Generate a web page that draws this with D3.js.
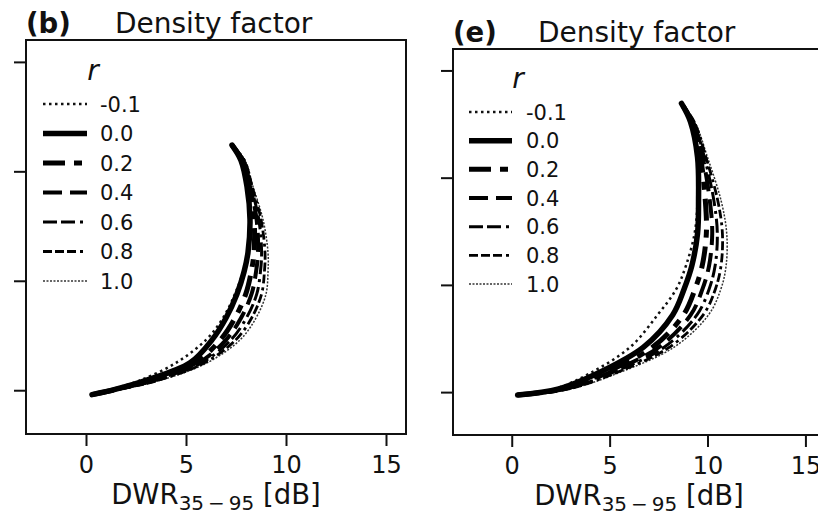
<!DOCTYPE html>
<html>
<head>
<meta charset="utf-8">
<script src="https://cdn.jsdelivr.net/npm/d3@7"></script>
<style>
  html, body { margin: 0; padding: 0; background: #fff; }
  svg { display: block; font-family: "DejaVu Sans", sans-serif; }
</style>
</head>
<body>
<svg id="chart" width="818" height="515"></svg>
<script>
// ---------------- data ----------------
const xTicks = [0, 5, 10, 15];
const yTicks = [0, 5, 10, 15];
const rLabels = ["-0.1", "0.0", "0.2", "0.4", "0.6", "0.8", "1.0"];
const panelLetters = ["(b)", "(e)"];
const panelTitle = "Density factor";

// panel (b): DWR values (y levels shared by all r)
const bY      = [-0.2, 0.05, 0.45, 1.25, 2.3, 3.3, 4.4, 5.4, 6.3, 7.8, 9.3, 10.5, 11.2];
const bX_m01  = [0.3, 1.3, 2.7, 4.5, 6.0, 6.85, 7.45, 7.85, 8.08, 8.2, 8.05, 7.75, 7.3];
const bX_00   = [0.3, 1.5, 3.0, 5.2, 6.3, 7.0, 7.55, 7.9, 8.1, 8.2, 8.05, 7.75, 7.3];
const bX_02   = [0.3, 1.56, 3.21, 5.46, 6.72, 7.45, 7.99, 8.26, 8.4, 8.4, 8.14, 7.81, 7.3];
const bX_04   = [0.3, 1.6, 3.35, 5.63, 7.0, 7.75, 8.28, 8.5, 8.6, 8.53, 8.2, 7.85, 7.3];
const bX_06   = [0.3, 1.64, 3.48, 5.78, 7.25, 8.02, 8.54, 8.72, 8.78, 8.64, 8.25, 7.89, 7.3];
const bX_08   = [0.3, 1.67, 3.6, 5.92, 7.49, 8.28, 8.78, 8.92, 8.95, 8.75, 8.31, 7.92, 7.3];
const bX_10   = [0.3, 1.7, 3.7, 6.05, 7.7, 8.5, 9.0, 9.1, 9.1, 8.85, 8.35, 7.95, 7.3];

// panel (e)
const eY      = [-0.14, 0.15, 0.88, 2.1, 3.6, 4.8, 5.9, 7.4, 8.9, 10.95, 12.6, 13.46];
const eX_m01  = [0.3, 2.2, 4.0, 6.05, 7.45, 8.4, 8.9, 9.34, 9.49, 9.49, 9.13, 8.67];
const eX_00   = [0.3, 2.4, 4.39, 6.73, 8.22, 8.8, 9.2, 9.49, 9.54, 9.49, 9.13, 8.67];
const eX_02   = [0.3, 2.58, 4.70, 7.20, 8.77, 9.36, 9.73, 9.94, 9.89, 9.64, 9.20, 8.67];
const eX_04   = [0.3, 2.7, 4.9, 7.52, 9.14, 9.74, 10.08, 10.24, 10.12, 9.75, 9.24, 8.67];
const eX_06   = [0.3, 2.81, 5.08, 7.8, 9.46, 10.08, 10.39, 10.5, 10.33, 9.84, 9.28, 8.67];
const eX_08   = [0.3, 2.91, 5.26, 8.06, 9.78, 10.4, 10.69, 10.76, 10.53, 9.92, 9.32, 8.67];
const eX_10   = [0.3, 3.0, 5.41, 8.3, 10.05, 10.68, 10.95, 10.98, 10.7, 10.0, 9.35, 8.67];

// line styles per r (same order as rLabels)
const styles = [
  { w: 2.5, dash: "2.5,3.5", color: "#111" },
  { w: 5.5, dash: null, color: "#000" },
  { w: 5,   dash: "22,9,8,9", color: "#000" },
  { w: 4,   dash: "19,8", color: "#000" },
  { w: 3,   dash: "14,4,14,5,3,5", color: "#000" },
  { w: 2.8, dash: "9,3,9,3,9,4,3,4", color: "#000" },
  { w: 1.5, dash: "2,1.5", color: "#333" }
];

// ---------------- layout ----------------
const panels = [
  { letter: panelLetters[0], left: 26, right: 406, top: 40, bottom: 434,
    xs: [bX_m01, bX_00, bX_02, bX_04, bX_06, bX_08, bX_10], ys: bY,
    letterX: 26, titleX: 115, titleY: 33,
    rX: 93, rY: 80, legLine: [43, 87], legText: 100, legY0: 104, legY1: 281 },
  { letter: panelLetters[1], left: 453, right: 825, top: 49, bottom: 435,
    xs: [eX_m01, eX_00, eX_02, eX_04, eX_06, eX_08, eX_10], ys: eY,
    letterX: 453, titleX: 538, titleY: 42,
    rX: 518, rY: 88, legLine: [469, 512], legText: 526, legY0: 112, legY1: 284 }
];

const svg = d3.select("#chart");

panels.forEach(p => {
  const x = d3.scaleLinear().domain([-3, 16]).range([p.left, p.right]);
  const y = d3.scaleLinear().domain([-2, 16]).range([p.bottom, p.top]);
  const g = svg.append("g");

  // clip
  const clipId = "clip" + p.letter.replace(/[()]/g, "");
  svg.append("defs").append("clipPath").attr("id", clipId)
    .append("rect").attr("x", p.left).attr("y", p.top)
    .attr("width", p.right - p.left).attr("height", p.bottom - p.top);

  // curves
  const line = d3.line().x(d => x(d[0])).y(d => y(d[1])).curve(d3.curveCatmullRom.alpha(0.5));
  const cg = g.append("g").attr("clip-path", `url(#${clipId})`);
  // draw outer r first so the solid line sits on top
  const order = [6, 5, 4, 3, 2, 0, 1];
  order.forEach(i => {
    const pts = p.xs[i].map((v, k) => [v, p.ys[k]]);
    const st = styles[i];
    cg.append("path").attr("d", line(pts))
      .attr("fill", "none").attr("stroke", st.color)
      .attr("stroke-width", st.w)
      .attr("stroke-dasharray", st.dash)
      .attr("stroke-linecap", i === 1 ? "round" : "butt")
      .attr("stroke-linejoin", "round");
  });

  // axes
  const xAxis = d3.axisBottom(x).tickValues(xTicks).tickSize(12).tickFormat(d3.format("d"));
  const gx = g.append("g").attr("transform", `translate(0,${p.bottom})`).call(xAxis);
  gx.select(".domain").remove();
  gx.selectAll(".tick line").attr("stroke", "#111").attr("stroke-width", 2);
  gx.selectAll(".tick text").attr("y", 39).attr("dy", 0)
    .attr("font-size", 24).attr("fill", "#111").attr("font-family", "DejaVu Sans");

  const yAxis = d3.axisLeft(y).tickValues(yTicks).tickSize(12).tickFormat("");
  const gy = g.append("g").attr("transform", `translate(${p.left},0)`).call(yAxis);
  gy.select(".domain").remove();
  gy.selectAll(".tick line").attr("stroke", "#111").attr("stroke-width", 2);

  // frame
  g.append("rect").attr("x", p.left).attr("y", p.top)
    .attr("width", p.right - p.left).attr("height", p.bottom - p.top)
    .attr("fill", "none").attr("stroke", "#111").attr("stroke-width", 2);

  // x label
  const lbl = g.append("text").attr("x", (p.left + p.right) / 2).attr("y", p.bottom + 70)
    .attr("text-anchor", "middle").attr("font-size", 27.5).attr("fill", "#111");
  lbl.append("tspan").text("DWR");
  lbl.append("tspan").attr("font-size", 20).attr("dy", 6).text("35\u2009\u2212\u200995");
  lbl.append("tspan").attr("dy", -6).text(" [dB]");

  // titles
  g.append("text").attr("x", p.letterX).attr("y", p.titleY)
    .attr("font-size", 27.5).attr("font-weight", "bold").attr("fill", "#111").text(p.letter);
  g.append("text").attr("x", p.titleX).attr("y", p.titleY)
    .attr("font-size", 28).attr("fill", "#111").text(panelTitle);

  // legend
  g.append("text").attr("x", p.rX).attr("y", p.rY).attr("text-anchor", "middle")
    .attr("font-size", 28).attr("font-style", "italic").attr("fill", "#111").text("r");
  const step = (p.legY1 - p.legY0) / (rLabels.length - 1);
  rLabels.forEach((lab, i) => {
    const yy = p.legY0 + i * step;
    const st = styles[i];
    g.append("line").attr("x1", p.legLine[0]).attr("x2", p.legLine[1])
      .attr("y1", yy).attr("y2", yy)
      .attr("stroke", st.color).attr("stroke-width", st.w)
      .attr("stroke-dasharray", st.dash);
    g.append("text").attr("x", p.legText).attr("y", yy + 7.5)
      .attr("font-size", 21).attr("fill", "#111").text(lab);
  });
});
</script>
</body>
</html>
